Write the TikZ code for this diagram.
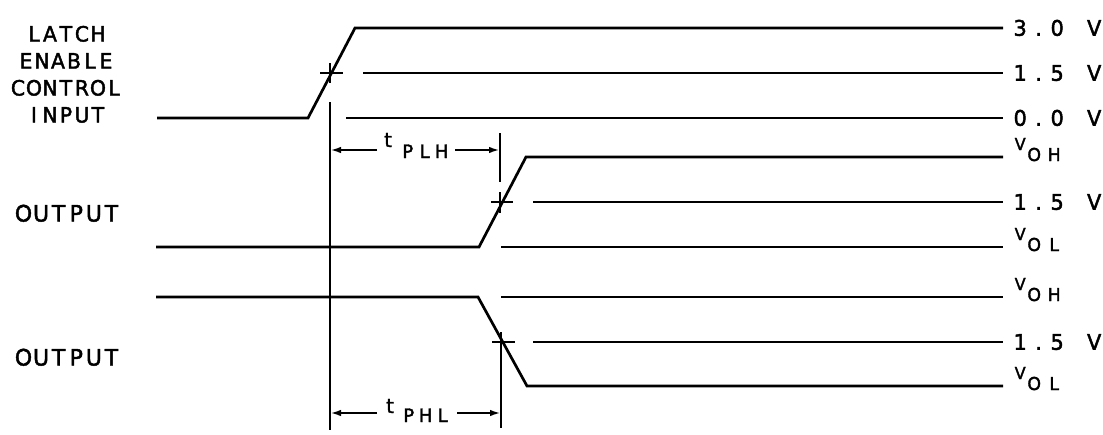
\documentclass[tikz,border=0pt]{standalone}
\usepackage{fontspec}
\setmainfont{DejaVu Sans}[FakeStretch=0.97,FakeBold=2]
\usetikzlibrary{arrows.meta}
\newcommand\lspitch{16pt}
\newcommand\lsp[2]{\def\lspitch{#1}\lspA#2\relax}
\def\lspA#1{\ifx#1\relax\else\makebox[\lspitch][c]{#1}\expandafter\lspA\fi}
\begin{document}
\begin{tikzpicture}[x=1pt,y=-1pt,
  wave/.style={line width=2.7pt, line join=miter},
  tick/.style={line width=2.5pt},
  dim/.style={line width=2.5pt, -{Latex[length=11pt,width=6.5pt]}},
  lbl/.style={inner sep=0pt, font=\fontsize{21}{26}\selectfont, anchor=base},
  outlbl/.style={inner sep=0pt, font=\fontsize{22.6}{28}\selectfont, anchor=base},
  vlbl/.style={inner sep=0pt, font=\fontsize{21.5}{26}\selectfont, anchor=base west},
  vbig/.style={inner sep=0pt, font=\fontsize{16.5}{20}\selectfont, anchor=base west},
  vsub/.style={inner sep=0pt, font=\fontsize{17.8}{22}\selectfont, anchor=base west},
  tbig/.style={inner sep=0pt, font=\fontsize{20}{24}\selectfont, anchor=base west},
  tsub/.style={inner sep=0pt, font=\fontsize{18.5}{24}\selectfont, anchor=base west}]
\useasboundingbox (0,0) rectangle (1103,434);

% ---------- left labels ----------
\node[lbl] (l1) at (66,41.5) {\lsp{16pt}{LATCH}};
\node[lbl] (l2) at (66,68.5) {\lsp{16pt}{ENABLE}};
\node[lbl] (l3) at (66,95.5) {\lsp{16pt}{CONTROL}};
\node[lbl] (l4) at (66,122.5) {\lsp{16pt}{INPUT}};
\node[outlbl] (o1) at (67.5,221.5) {\lsp{17.6pt}{OUTPUT}};
\node[outlbl] (o2) at (67.5,365.5) {\lsp{17.6pt}{OUTPUT}};

% ---------- input waveform ----------
\coordinate (inL) at (157,118);
\coordinate (inA) at (308,118);
\coordinate (inB) at (355,28);
\coordinate (inR) at (1003,28);
\draw[wave] (inL) -- (inA) -- (inB) -- (inR);
\draw[tick] (320,73) -- (343,73);
\draw[tick] (330,63) -- (330,83);
\coordinate (m1a) at (363,73);
\coordinate (m1b) at (1003,73);
\draw[wave] (m1a) -- (m1b);
\coordinate (z1a) at (346,118);
\coordinate (z1b) at (1003,118);
\draw[wave] (z1a) -- (z1b);

% reference vertical line
\coordinate (vTop) at (330,102);
\coordinate (vBot) at (330,430);
\draw[tick] (vTop) -- (vBot);

% ---------- output 1 (rising) ----------
\coordinate (o1L) at (156,247);
\coordinate (o1A) at (479,247);
\coordinate (o1B) at (526,157);
\coordinate (o1R) at (1003,157);
\draw[wave] (o1L) -- (o1A) -- (o1B) -- (o1R);
\draw[tick] (491,202) -- (513,202);
\draw[tick] (500,192) -- (500,213);
\coordinate (m2a) at (533,202);
\coordinate (m2b) at (1003,202);
\draw[wave] (m2a) -- (m2b);
\coordinate (l2a) at (501,247);
\coordinate (l2b) at (1003,247);
\draw[wave] (l2a) -- (l2b);
\coordinate (pTop) at (500,133);
\coordinate (pBot) at (500,182);
\draw[tick] (pTop) -- (pBot);

% t_PLH
\coordinate (a1L) at (330,150);
\coordinate (a1l) at (377,150);
\coordinate (a1r) at (455,150);
\coordinate (a1R) at (500,150);
\draw[dim] (a1l) -- (a1L);
\draw[dim] (a1r) -- (a1R);
\node[tbig] (tplh) at (384,147) {t};
\node[tsub] (plh) at (399,158) {\lsp{17pt}{PLH}};

% ---------- output 2 (falling) ----------
\coordinate (o2L) at (156,297);
\coordinate (o2A) at (478,297);
\coordinate (o2B) at (527,386);
\coordinate (o2R) at (1003,386);
\draw[wave] (o2L) -- (o2A) -- (o2B) -- (o2R);
\coordinate (h3a) at (501,297);
\coordinate (h3b) at (1003,297);
\draw[wave] (h3a) -- (h3b);
\draw[tick] (492,342) -- (515,342);
\coordinate (m3a) at (533,342);
\coordinate (m3b) at (1003,342);
\draw[wave] (m3a) -- (m3b);
\coordinate (qTop) at (501,332);
\coordinate (qBot) at (501,428);
\draw[tick] (qTop) -- (qBot);

% t_PHL
\coordinate (a2L) at (330,413);
\coordinate (a2l) at (377,413);
\coordinate (a2r) at (457,413);
\coordinate (a2R) at (501,413);
\draw[dim] (a2l) -- (a2L);
\draw[dim] (a2r) -- (a2R);
\node[tbig] (tphl) at (386,413) {t};
\node[tsub] (phl) at (400,422) {\lsp{17pt}{PHL}};

% ---------- right labels ----------
\node[vlbl] (r1) at (1010.75,35.75) {\lsp{18.5pt}{3.0~V}};
\node[vlbl] (r2) at (1010.75,80.75) {\lsp{18.5pt}{1.5~V}};
\node[vlbl] (r3) at (1010.75,125.75) {\lsp{18.5pt}{0.0~V}};
\node[vbig] (r4v) at (1014.5,150) {V};
\node[vsub] (r4s) at (1024,161) {\lsp{20pt}{OH}};
\node[vlbl] (r5) at (1010.75,209.75) {\lsp{18.5pt}{1.5~V}};
\node[vbig] (r6v) at (1014.5,240) {V};
\node[vsub] (r6s) at (1024,251) {\lsp{20pt}{OL}};
\node[vbig] (r7v) at (1014.5,290) {V};
\node[vsub] (r7s) at (1024,301) {\lsp{20pt}{OH}};
\node[vlbl] (r8) at (1010.75,349.75) {\lsp{18.5pt}{1.5~V}};
\node[vbig] (r9v) at (1014.5,379) {V};
\node[vsub] (r9s) at (1024,390) {\lsp{20pt}{OL}};
\end{tikzpicture}
\end{document}
